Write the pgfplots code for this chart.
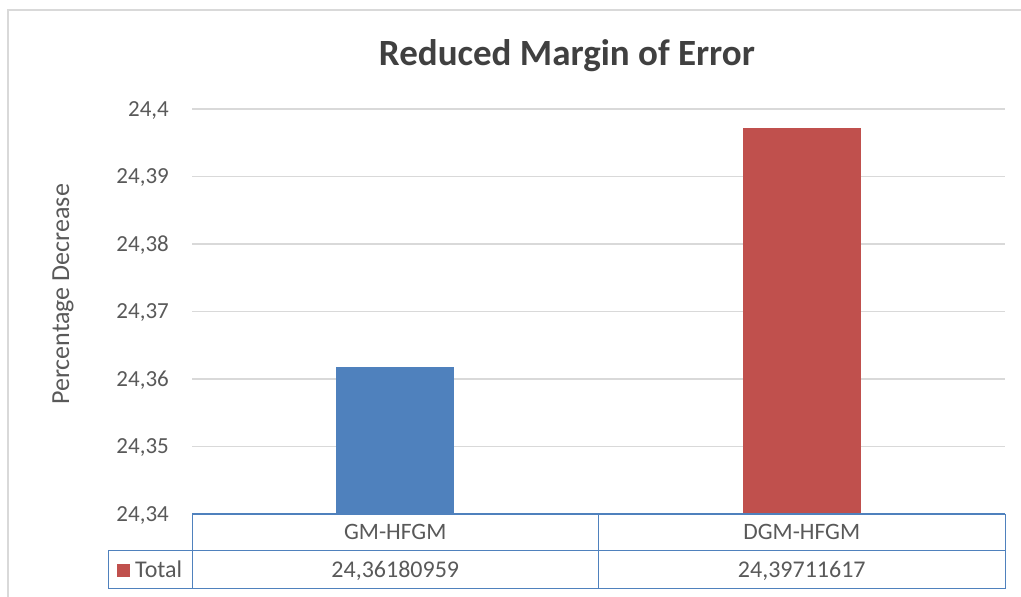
\documentclass[border=0pt]{standalone}
\usepackage{fontspec}
\setmainfont{Carlito}
\usepackage{pgfplots}
\pgfplotsset{compat=1.18}
\definecolor{barblue}{HTML}{4F81BD}
\definecolor{barred}{HTML}{C0504D}
\definecolor{txt}{HTML}{595959}
\definecolor{ttl}{HTML}{404040}
\definecolor{gridc}{HTML}{D9D9D9}
\definecolor{tblue}{HTML}{4F81BD}
\definecolor{tlight}{HTML}{A7BFDE}
\begin{document}
\begin{tikzpicture}
\path[use as bounding box] (0,0) rectangle (1021pt,597pt);
% outer chart border
\draw[gridc, line width=1.5pt] (8pt,0pt) -- (8pt,587pt) -- (1021pt,587pt);
\begin{axis}[
  at={(192pt,83pt)}, anchor=south west,
  scale only axis,
  width=813pt, height=405pt,
  xmin=-0.5, xmax=1.5,
  ymin=24.34, ymax=24.4,
  ytick={24.34,24.35,24.36,24.37,24.38,24.39,24.40},
  xtick={0,1},
  xticklabels={GM-HFGM,DGM-HFGM},
  axis line style={draw=none},
  major tick length=0pt,
  ymajorgrids,
  grid style={gridc, line width=1.5pt},
  /pgf/number format/assume math mode=true,
  /pgf/number format/use comma,
  /pgf/number format/fixed,
  /pgf/number format/precision=2,
  yticklabel style={font=\fontsize{23}{28}\selectfont, text=txt, inner sep=0pt, anchor=base east, xshift=-23pt, yshift=-7.2pt},
  xticklabel style={font=\fontsize{23.5}{28}\selectfont, text=txt, inner sep=0pt, anchor=base, yshift=-26pt},
  ybar, bar width=118pt, bar shift=0pt,
  clip=false,
]
\addplot[fill=barblue, draw=none] coordinates {(0,24.36180959)};
\addplot[fill=barred, draw=none] coordinates {(1,24.39711617)};
\end{axis}
% data table
\draw[tlight, line width=1pt] (192pt,46pt) -- (1005pt,46pt);
\draw[tblue, line width=1pt] (108pt,46pt) -- (192pt,46pt);
\draw[tblue, line width=1pt] (108pt,46pt) rectangle (1005pt,8pt);
\draw[tblue, line width=1pt] (192pt,83pt) -- (192pt,8pt);
\draw[tblue, line width=1pt] (598pt,83pt) -- (598pt,8pt);
\draw[tblue, line width=1pt] (1005pt,83pt) -- (1005pt,8pt);
\draw[tblue, line width=2pt] (192pt,83pt) -- (1005pt,83pt);
\fill[barred] (117pt,20pt) rectangle (130pt,33pt);
\node[font=\fontsize{24}{28}\selectfont, text=txt, anchor=base west, inner sep=0pt] at (135pt,19pt) {Total};
\node[font=\fontsize{24}{28}\selectfont, text=txt, anchor=base, inner sep=0pt] at (395.25pt,19pt) {24,36180959};
\node[font=\fontsize{24}{28}\selectfont, text=txt, anchor=base, inner sep=0pt] at (801.75pt,19pt) {24,39711617};
% title and y label
\node[font=\fontsize{37}{42}\selectfont\bfseries, text=ttl, anchor=base, inner sep=0pt] at (567pt,531pt) {Reduced Margin of Error};
\node[font=\fontsize{26}{30}\selectfont, text=txt, rotate=90] at (63pt,302.5pt) {Percentage Decrease};
\end{tikzpicture}
\end{document}
